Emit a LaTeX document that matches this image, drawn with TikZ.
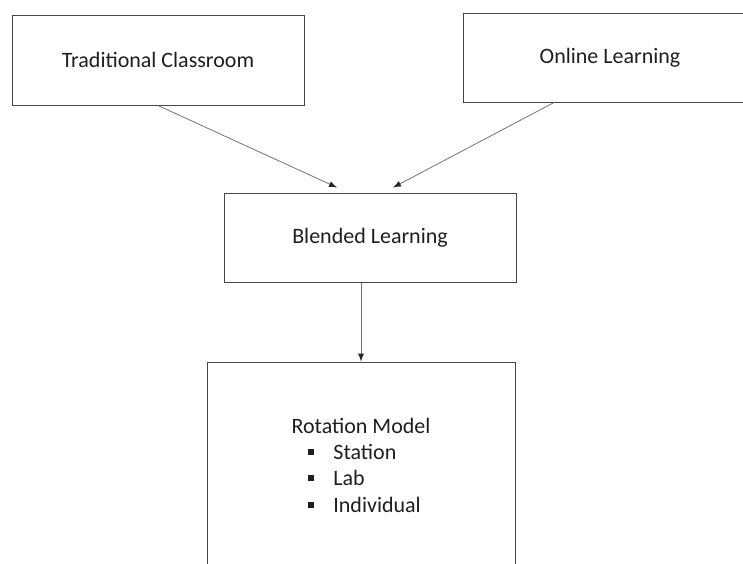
\documentclass[tikz,border=0pt]{standalone}
\usepackage{fontspec}
\setmainfont{Carlito}
\usetikzlibrary{positioning}
\colorlet{boxline}{black!72}
\colorlet{arrowline}{black!55}
\tikzset{
  block/.style = {draw=boxline, line width=0.5pt, fill=white, text=black!88, font=\fontsize{11}{13}\selectfont},
  link/.style = {-{latex[black!85]}, draw=arrowline, line width=0.4pt}
}
\tikzset{>=latex}

\begin{document}
\begin{tikzpicture}[x=0.5pt,y=-0.5pt]
  \useasboundingbox (0,0) rectangle (743,563);
  \clip (0,0) rectangle (743,563);
  % the two sources
  \node (Trad) at (158,60) [block, minimum width=146pt, minimum height=45pt] {Traditional Classroom};
  \node (Online) at (610,57.5) [block, minimum width=147pt, minimum height=44.5pt] {Online Learning};
  % the mix of both
  \node (Blend) at (370,237.5) [block, minimum width=146pt, minimum height=44.5pt] {Blended Learning};
  % the model below, with its list
  \node (Rot) at (361,491) [block, minimum width=154pt, minimum height=129pt] {};
  \node (RotTitle) at (361,426) [font=\fontsize{11}{13}\selectfont, text=black!88] {Rotation Model};
  \foreach \name/\item/\y in {Sta/Station/452, Lab/Lab/478, Ind/Individual/505} {
    \node (bul\name) at (311,\y) [fill=black!88, inner sep=0pt, minimum size=2.8pt] {};
    \node (\name) at (333,\y) [anchor=west, inner xsep=0pt, font=\fontsize{11}{13}\selectfont, text=black!88] {\item};
  }
  % arrows
  \draw[link] (Trad.south) -- ([xshift=-16.5pt,yshift=2.5pt]Blend.north);
  \draw[link] ([xshift=-28pt]Online.south) -- ([xshift=11.5pt,yshift=2.5pt]Blend.north);
  \draw[link] (Rot.north |- Blend.south) -- (Rot.north);
\end{tikzpicture}
\end{document}
